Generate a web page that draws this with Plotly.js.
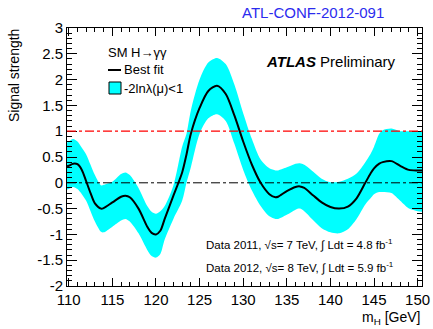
<!DOCTYPE html>
<html>
<head>
<meta charset="utf-8">
<script src="https://cdn.plot.ly/plotly-3.0.1.min.js"></script>
<style>
  html, body { margin: 0; padding: 0; background: #fff; }
  #chart { width: 433px; height: 329px; }
</style>
</head>
<body>
<div id="chart"></div>
<script>
// Higgs mass hypothesis (GeV)
const massPoints = [109.8, 110, 110.5, 111, 111.5, 112, 112.5, 113, 113.7, 114, 115, 116, 116.5, 117, 118, 119, 119.5, 120, 120.5, 121, 122, 123, 123.5, 124, 125, 126, 127, 128, 129, 130, 131, 132, 133, 133.7, 134, 135, 136, 136.5, 137, 138, 139, 140, 141, 142, 143, 144, 144.6, 145, 145.6, 146, 147, 148, 149, 150, 150.5];
// Best-fit signal strength
const bestFit = [0.32, 0.33, 0.37, 0.36, 0.25, 0.03, -0.2, -0.4, -0.5, -0.49, -0.38, -0.27, -0.25, -0.28, -0.5, -0.85, -0.97, -1.0, -0.93, -0.7, -0.25, 0.2, 0.55, 0.95, 1.45, 1.78, 1.88, 1.72, 1.3, 0.8, 0.35, 0.0, -0.22, -0.28, -0.27, -0.16, -0.08, -0.07, -0.1, -0.24, -0.38, -0.47, -0.5, -0.46, -0.3, 0.0, 0.18, 0.28, 0.37, 0.4, 0.42, 0.33, 0.25, 0.24, 0.24];
// -2 ln lambda(mu) < 1 interval edges
const bandUpper = [0.78, 0.8, 0.85, 0.8, 0.68, 0.55, 0.35, 0.15, -0.05, -0.04, 0.02, 0.17, 0.2, 0.15, -0.1, -0.45, -0.56, -0.6, -0.55, -0.45, -0.05, 0.7, 0.95, 1.4, 2.0, 2.33, 2.42, 2.3, 1.9, 1.35, 0.85, 0.45, 0.28, 0.24, 0.24, 0.3, 0.37, 0.38, 0.35, 0.22, 0.08, 0.01, 0.02, 0.08, 0.18, 0.4, 0.56, 0.7, 0.95, 1.02, 1.05, 1.0, 1.0, 1.0, 1.0];
const bandLower = [-0.13, -0.12, -0.08, -0.12, -0.22, -0.35, -0.55, -0.75, -0.95, -0.96, -0.85, -0.73, -0.7, -0.75, -0.98, -1.3, -1.42, -1.45, -1.38, -1.1, -0.7, -0.35, 0.0, 0.3, 0.95, 1.25, 1.33, 1.2, 0.75, 0.25, -0.15, -0.45, -0.65, -0.7, -0.7, -0.62, -0.52, -0.5, -0.55, -0.72, -0.88, -0.96, -0.98, -0.9, -0.7, -0.42, -0.3, -0.22, -0.18, -0.18, -0.2, -0.35, -0.5, -0.55, -0.56];

// Reference lines: SM expectation and background-only
const smLine = 1;
const bkgLine = 0;

// Axis tick labels
const xTickVals = [110, 115, 120, 125, 130, 135, 140, 145, 150];
const xTickText = ['110', '115', '120', '125', '130', '135', '140', '145', '150'];
const yTickVals = [-2, -1.5, -1, -0.5, 0, 0.5, 1, 1.5, 2, 2.5, 3];
const yTickText = ['-2', '-1.5', '-1', '-0.5', '0', '0.5', '1', '1.5', '2', '2.5', '3'];

const FONT = 'Liberation Sans, Arial, Helvetica, sans-serif';
const CYAN = '#00ffff';

const traces = [
  {
    x: massPoints, y: bandLower, mode: 'lines', type: 'scatter',
    line: { width: 0, shape: 'spline', smoothing: 0.8, color: CYAN },
    hoverinfo: 'skip', showlegend: false
  },
  {
    x: massPoints, y: bandUpper, mode: 'lines', type: 'scatter',
    line: { width: 0, shape: 'spline', smoothing: 0.8, color: CYAN },
    fill: 'tonexty', fillcolor: CYAN,
    hoverinfo: 'skip', showlegend: false
  },
  {
    x: massPoints, y: bestFit, mode: 'lines', type: 'scatter',
    line: { width: 2, shape: 'spline', smoothing: 0.8, color: '#000' },
    showlegend: false
  }
];

// Plot-area pixel helpers for placing text/legend items
const L = 67, R = 422, T = 28, B = 286;
const px = v => (v - L) / (R - L);
const py = v => (B - v) / (B - T);

const layout = {
  width: 433, height: 329,
  margin: { l: L, r: 433 - R, t: T, b: 329 - B },
  paper_bgcolor: '#fff', plot_bgcolor: '#fff',
  showlegend: false,
  font: { family: FONT, color: '#000', size: 14 },
  xaxis: {
    range: [109.8, 150.5], tickmode: 'array', tickvals: xTickVals, ticktext: xTickText,
    ticks: 'inside', ticklen: 8, tickwidth: 1, tickcolor: '#000',
    minor: { tickmode: 'linear', tick0: 110, dtick: 1, ticks: 'inside', ticklen: 4, tickcolor: '#000', showgrid: false },
    showline: true, linecolor: '#000', linewidth: 1, mirror: 'ticks',
    showgrid: false, zeroline: false, ticklabeloverflow: 'allow',
    tickfont: { family: FONT, size: 15 }
  },
  yaxis: {
    range: [-2, 3], tickmode: 'array', tickvals: yTickVals, ticktext: yTickText,
    ticks: 'inside', ticklen: 10, tickwidth: 1, tickcolor: '#000',
    minor: { tickmode: 'linear', tick0: -2, dtick: 0.1, ticks: 'inside', ticklen: 5, tickcolor: '#000', showgrid: false },
    showline: true, linecolor: '#000', linewidth: 1, mirror: 'ticks',
    showgrid: false, zeroline: false,
    tickfont: { family: FONT, size: 15 }
  },
  shapes: [
    { type: 'line', xref: 'paper', x0: 0, x1: 1, yref: 'y', y0: smLine, y1: smLine,
      line: { color: '#ff0000', width: 1.3, dash: 'dashdot' } },
    { type: 'line', xref: 'paper', x0: 0, x1: 1, yref: 'y', y0: bkgLine, y1: bkgLine,
      line: { color: '#000', width: 1, dash: 'dashdot' } },
    // legend samples
    { type: 'line', xref: 'paper', yref: 'paper', x0: px(108), x1: px(121), y0: py(70), y1: py(70),
      line: { color: '#000', width: 2 } },
    { type: 'rect', xref: 'paper', yref: 'paper', x0: px(109), x1: px(121), y0: py(94), y1: py(82),
      fillcolor: CYAN, line: { color: '#000', width: 1 } }
  ],
  annotations: [
    { text: 'ATL-CONF-2012-091', xref: 'paper', yref: 'paper', x: px(240), y: py(13),
      xanchor: 'left', yanchor: 'middle', showarrow: false,
      font: { family: FONT, size: 15, color: '#2b2bee' } },
    { text: 'SM H\u2192\u03b3\u03b3', xref: 'paper', yref: 'paper', x: px(106), y: py(52),
      xanchor: 'left', yanchor: 'middle', showarrow: false, font: { family: FONT, size: 13 } },
    { text: 'Best fit', xref: 'paper', yref: 'paper', x: px(122), y: py(70),
      xanchor: 'left', yanchor: 'middle', showarrow: false, font: { family: FONT, size: 13 } },
    { text: '-2ln\u03bb(\u03bc)<1', xref: 'paper', yref: 'paper', x: px(122), y: py(88),
      xanchor: 'left', yanchor: 'middle', showarrow: false, font: { family: FONT, size: 13 } },
    { text: '<b><i>ATLAS</i></b> Preliminary', xref: 'paper', yref: 'paper', x: px(264), y: py(61),
      xanchor: 'left', yanchor: 'middle', showarrow: false, font: { family: FONT, size: 15 } },
    { text: 'Data 2011, \u221as= 7 TeV, \u222b Ldt = 4.8 fb<sup>-1</sup>', xref: 'paper', yref: 'paper',
      x: px(204), y: py(245), xanchor: 'left', yanchor: 'middle', showarrow: false,
      font: { family: FONT, size: 11.5 } },
    { text: 'Data 2012, \u221as= 8 TeV, \u222b Ldt = 5.9 fb<sup>-1</sup>', xref: 'paper', yref: 'paper',
      x: px(204), y: py(267), xanchor: 'left', yanchor: 'middle', showarrow: false,
      font: { family: FONT, size: 11.5 } },
    { text: 'Signal strength', xref: 'paper', yref: 'paper', x: px(14), y: py(76),
      xanchor: 'center', yanchor: 'middle', textangle: -90, showarrow: false,
      font: { family: FONT, size: 14 } },
    { text: 'm<sub>H</sub> [GeV]', xref: 'paper', yref: 'paper', x: 1, y: py(318),
      xanchor: 'right', yanchor: 'middle', showarrow: false, font: { family: FONT, size: 14 } }
  ]
};

Plotly.newPlot('chart', traces, layout, { staticPlot: true, displayModeBar: false });
</script>
</body>
</html>
